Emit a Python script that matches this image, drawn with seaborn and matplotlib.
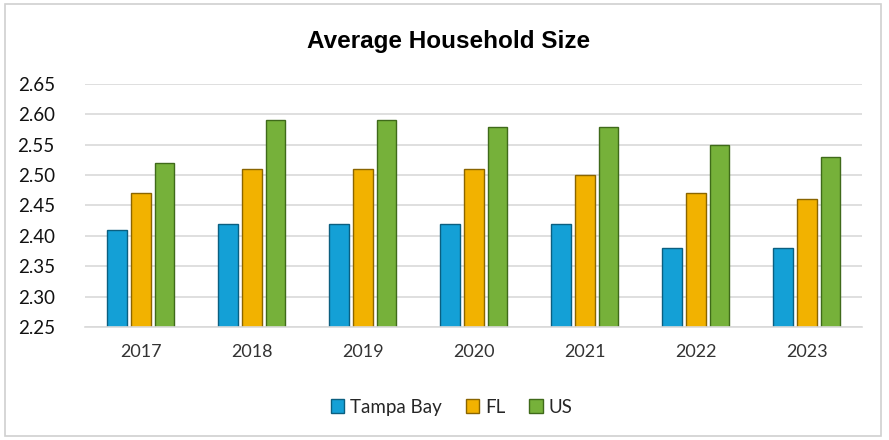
import matplotlib.pyplot as plt
import matplotlib.patches as mpatches
import seaborn as sns
import pandas as pd

# 数据
years = ['2017', '2018', '2019', '2020', '2021', '2022', '2023']
tampa_bay = [2.41, 2.42, 2.42, 2.42, 2.42, 2.38, 2.38]
florida = [2.47, 2.51, 2.51, 2.51, 2.50, 2.47, 2.46]
us = [2.52, 2.59, 2.59, 2.58, 2.58, 2.55, 2.53]
series_names = ['Tampa Bay', 'FL', 'US']
colors = ['#14A0D6', '#F2B200', '#76B13A']
edge_colors = ['#0B5F80', '#8A6500', '#3F6A1A']

df = pd.DataFrame({
    'year': years * 3,
    'value': tampa_bay + florida + us,
    'region': [s for s in series_names for _ in years],
})

sns.set_theme(style='white')
plt.rcParams['font.family'] = ['Lato', 'DejaVu Sans']

fig = plt.figure(figsize=(8.89, 4.40), dpi=100)
ax = fig.add_axes([0.096, 0.257, 0.874, 0.552])

sns.barplot(data=df, x='year', y='value', hue='region', palette=colors,
            width=0.64, gap=0.16, saturation=1, ax=ax, legend=False)

# 柱子描边，模拟立体效果
for i, cont in enumerate(ax.containers):
    for bar in cont:
        bar.set_edgecolor(edge_colors[i])
        bar.set_linewidth(1.0)

ax.set_ylim(2.25, 2.65)
ax.set_yticks([2.25, 2.30, 2.35, 2.40, 2.45, 2.50, 2.55, 2.60, 2.65])
ax.set_yticklabels([f'{v:.2f}' for v in ax.get_yticks()], fontsize=13.5, color='#111111')
ax.tick_params(axis='x', labelsize=13, colors='#333333', length=0, pad=12)
ax.tick_params(axis='y', length=0, pad=22)
ax.set_xlabel('')
ax.set_ylabel('')
ax.yaxis.grid(True, color='#D9D9D9', linewidth=1.2)
ax.set_axisbelow(True)
for s in ['top', 'right', 'left']:
    ax.spines[s].set_visible(False)
ax.spines['bottom'].set_color('#D9D9D9')
ax.spines['bottom'].set_linewidth(1.2)

fig.text(0.505, 0.905, 'Average Household Size', ha='center', va='center', color='black',
         fontsize=17.5, fontweight='bold', family=['Liberation Sans', 'DejaVu Sans'])

handles = [mpatches.Patch(facecolor=c, edgecolor=e, label=n)
           for c, e, n in zip(colors, edge_colors, series_names)]
fig.legend(handles=handles, loc='center', bbox_to_anchor=(0.508, 0.075), ncol=3,
           frameon=False, fontsize=13.5, handlelength=0.7, handleheight=0.7,
           handletextpad=0.3, columnspacing=1.3)

# 外框
fig.patches.append(mpatches.Rectangle((0.006, 0.01), 0.985, 0.98, transform=fig.transFigure,
                                      fill=False, edgecolor='#D0D0D0', linewidth=1.2))

plt.savefig('out.png', dpi=100)
